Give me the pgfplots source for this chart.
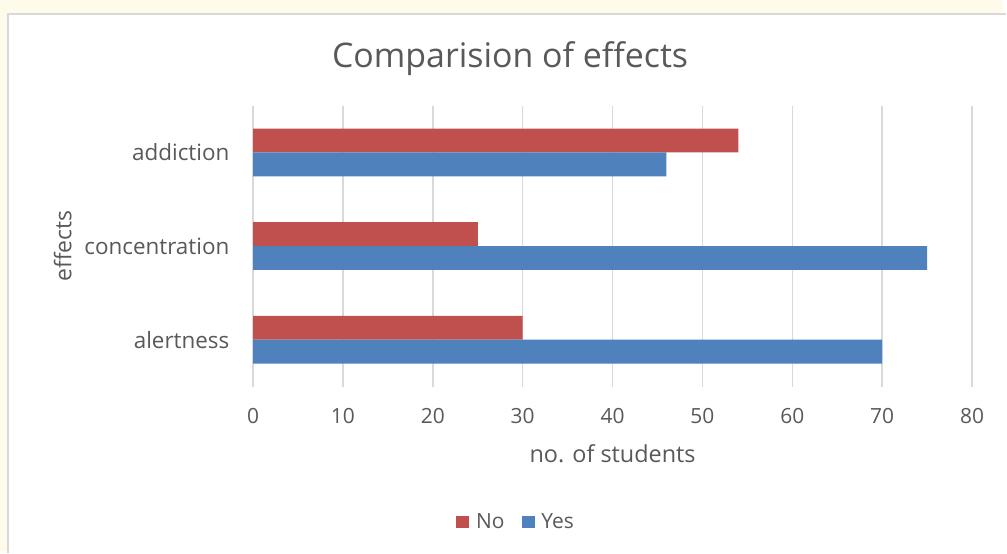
\documentclass[border=0pt]{standalone}
\usepackage{pgfplots}
\pgfplotsset{compat=1.18}
\usepackage{fontspec}
\setmainfont{Open Sans}

\definecolor{cream}{HTML}{FFFBEA}
\definecolor{panelborder}{HTML}{D9D9D9}
\definecolor{gridgray}{HTML}{D9D9D9}
\definecolor{textgray}{HTML}{595959}
\definecolor{noRed}{HTML}{C0504D}
\definecolor{yesBlue}{HTML}{4F81BD}

\begin{document}
\begin{tikzpicture}[x=1pt,y=1pt]
  % page background and chart panel
  \fill[cream] (0,0) rectangle (1007,553);
  \fill[white] (8,0) rectangle (1007,539);
  \draw[panelborder, line width=1.5pt] (8,-2) -- (8,539) -- (1010,539);

  \begin{axis}[
    at={(254pt,165pt)}, anchor=south west,
    scale only axis,
    width=721.7pt, height=282pt,
    xbar, bar width=24pt,
    xmin=0, xmax=80,
    ymin=-0.5, ymax=2.5,
    xtick={0,10,...,80},
    ytick={0,1,2},
    yticklabels={alertness,concentration,addiction},
    /pgf/number format/assume math mode=true,
    axis line style={draw=none},
    tick style={draw=none},
    xmajorgrids,
    major grid style={gridgray, line width=1.5pt},
    every tick label/.append style={text=textgray},
    xticklabel style={font=\fontsize{21}{25}\selectfont, yshift=-18pt},
    yticklabel style={font=\fontsize{22.5}{27}\selectfont, anchor=east, xshift=-16pt},
    title={Comparision of effects},
    title style={at={(axis description cs:0.3575,1.145)}, anchor=center,
                 font=\fontsize{34}{40}\selectfont, text=textgray},
    xlabel={no. of students},
    xlabel style={at={(axis description cs:0.5,-0.2376)}, anchor=center,
                  font=\fontsize{23.5}{28}\selectfont, text=textgray},
    ylabel={effects},
    ylabel style={at={(axis description cs:-0.2647,0.5)}, anchor=center,
                  font=\fontsize{23}{28}\selectfont, text=textgray},
    legend style={at={(axis description cs:0.3658,-0.482)}, anchor=center,
                  draw=none, fill=none, legend columns=2,
                  font=\fontsize{21}{25}\selectfont, text=textgray,
                  /tikz/every odd column/.append style={column sep=5pt},
                  /tikz/every even column/.append style={column sep=15pt}},
    legend image code/.code={\fill[#1] (0pt,-6.5pt) rectangle (13pt,6.5pt);},
  ]
    % No answers (upper bar of each pair)
    \addplot[fill=noRed, draw=none, bar shift=12pt] coordinates {
      (30,0) (25,1) (54,2)
    };
    % Yes answers (lower bar of each pair)
    \addplot[fill=yesBlue, draw=none, bar shift=-12pt] coordinates {
      (70,0) (75,1) (46,2)
    };
    \legend{No,Yes}
  \end{axis}
\end{tikzpicture}
\end{document}
